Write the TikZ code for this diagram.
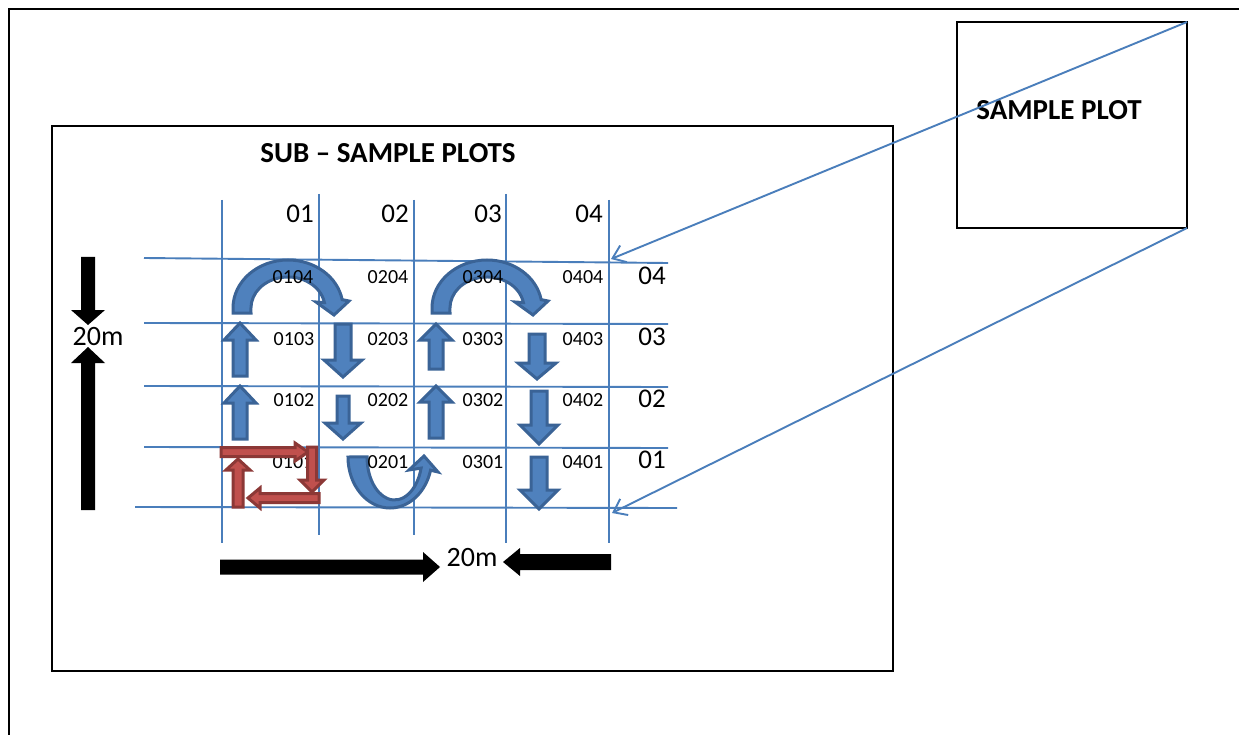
\documentclass[tikz,border=0pt]{standalone}
\usepackage{fontspec}
\setmainfont{Carlito}
\usetikzlibrary{arrows.meta}
\definecolor{gridblue}{HTML}{4A7EBB}
\definecolor{bfill}{HTML}{4F81BD}
\definecolor{bline}{HTML}{3A6396}
\definecolor{rfill}{HTML}{C0504D}
\definecolor{rline}{HTML}{8C3836}
% vertical block arrow: style, x, ytail, yheadbase, ytip, shaft half, head half
\newcommand{\myVArr}[7]{\path[#1] ({#2-#6},#3) -- ({#2-#6},#4) -- ({#2-#7},#4) -- (#2,#5) -- ({#2+#7},#4) -- ({#2+#6},#4) -- ({#2+#6},#3) -- cycle;}
% horizontal block arrow: style, y, xtail, xheadbase, xtip, shaft half, head half
\newcommand{\myHArr}[7]{\path[#1] (#3,{#2-#6}) -- (#4,{#2-#6}) -- (#4,{#2-#7}) -- (#5,#2) -- (#4,{#2+#7}) -- (#4,{#2+#6}) -- (#3,{#2+#6}) -- cycle;}
\begin{document}
\begin{tikzpicture}[x=1pt,y=-1pt,
  gridline/.style={draw=gridblue, line width=1.9pt},
  conn/.style={draw=gridblue, line width=1.9pt, -{Straight Barb[length=12pt,width=18pt]}},
  barrow/.style={fill=bfill, draw=bline, line width=3pt, line join=miter},
  rarrow/.style={fill=rfill, draw=rline, line width=3pt, line join=miter},
  karrow/.style={fill=black},
  celltxt/.style={font=\fontsize{20}{24}\selectfont, inner sep=0pt},
  hdrtxt/.style={font=\fontsize{27}{31}\selectfont, inner sep=0pt},
  dimtxt/.style={font=\fontsize{28}{32}\selectfont, inner sep=0pt},
  ttl/.style={font=\bfseries\fontsize{29}{34}\selectfont, inner sep=0pt},
  box/.style={draw=black, line width=1.4pt, inner sep=0pt, outer sep=0pt, anchor=north west}]
\fill[white] (0,0) rectangle (1239,735);
\useasboundingbox (0,0) rectangle (1239,735);
\begin{scope}
\clip (0,0) rectangle (1239,735);
\draw[line width=2.6pt] (9,745) -- (9,9) -- (1250,9);
\end{scope}
% boxes
\node[box, minimum width=841pt, minimum height=545pt] (sub) at (52,126) {};
\node[box, minimum width=230pt, minimum height=206pt] (sp) at (957,22) {};
\node[ttl] (sptitle) at (1059,110) {SAMPLE PLOT};
\node[ttl] (subtitle) at (388,153) {SUB -- SAMPLE PLOTS};
% grid
\draw[gridline] (144,258) -- (668,263);
\draw[gridline] (144,323) -- (668,324);
\draw[gridline] (144,386) -- (668,387);
\draw[gridline] (144,447) -- (668,448);
\draw[gridline] (135,507) -- (677,508);
\draw[gridline] (222,200) -- (222,543);
\draw[gridline] (319,194) -- (319,535);
\draw[gridline] (414,200) -- (414,535);
\draw[gridline] (506,194) -- (506,543);
\draw[gridline] (609,200) -- (609,543);
% connectors
\coordinate (gTR) at (611,259);
\coordinate (gBR) at (612,513);
\draw[conn] (sp.north east) -- (gTR);
\draw[conn] (sp.south east) -- (gBR);
% header labels
\node[hdrtxt] (h1) at (300,214) {01};
\node[hdrtxt] (h2) at (395,214) {02};
\node[hdrtxt] (h3) at (488,214) {03};
\node[hdrtxt] (h4) at (589,214) {04};
\node[hdrtxt] (r4) at (652,276) {04};
\node[hdrtxt] (r3) at (652,337) {03};
\node[hdrtxt] (r2) at (652,399) {02};
\node[hdrtxt] (r1) at (652,460) {01};
% blue straight arrows
\myVArr{barrow}{240}{376}{340}{323}{7}{16}
\myVArr{barrow}{240}{439}{403}{386}{7}{16}
\myVArr{barrow}{343}{324}{360}{377}{8}{19}
\myVArr{barrow}{343}{396}{423}{439}{6}{18}
\myVArr{barrow}{436}{369}{340}{324}{7}{16}
\myVArr{barrow}{436}{438}{402}{386}{7}{16}
\myVArr{barrow}{537}{334}{363}{379}{8}{19}
\myVArr{barrow}{539}{391}{425}{444}{8}{19}
\myVArr{barrow}{539}{457}{490}{509}{8}{19}
% blue curved arrows (top)
\path[barrow] (233,313) -- (233,308) arc[start angle=180, end angle=350, x radius=55, y radius=48]
  -- (349,301) -- (334,315) -- (316,302) -- (324.4,302.6)
  arc[start angle=350, end angle=180, x radius=37, y radius=31] -- (251,313) -- cycle;
\begin{scope}[shift={(199,0)}]
\path[barrow] (233,313) -- (233,308) arc[start angle=180, end angle=350, x radius=55, y radius=48]
  -- (349,301) -- (334,315) -- (316,302) -- (324.4,302.6)
  arc[start angle=350, end angle=180, x radius=37, y radius=31] -- (251,313) -- cycle;
\end{scope}
% blue U arrow (bottom)
\path[barrow] (348,457) arc[start angle=180, end angle=15, x radius=42, y radius=51]
  -- (438,472) -- (424,456) -- (409,470) -- (421.1,468.1)
  arc[start angle=15, end angle=180, x radius=27.5, y radius=43] -- cycle;
% cell labels
\node[celltxt] (c0104) at (293,277) {0104};
\node[celltxt] (c0204) at (388,277) {0204};
\node[celltxt] (c0304) at (483,277) {0304};
\node[celltxt] (c0404) at (583,277) {0404};
\node[celltxt] (c0103) at (294,339) {0103};
\node[celltxt] (c0203) at (388,339) {0203};
\node[celltxt] (c0303) at (483,339) {0303};
\node[celltxt] (c0403) at (583,339) {0403};
\node[celltxt] (c0102) at (294,400) {0102};
\node[celltxt] (c0202) at (388,400) {0202};
\node[celltxt] (c0302) at (483,400) {0302};
\node[celltxt] (c0402) at (583,400) {0402};
\node[celltxt] (c0101) at (293,462) {0101};
\node[celltxt] (c0201) at (388,462) {0201};
\node[celltxt] (c0301) at (483,462) {0301};
\node[celltxt] (c0401) at (583,462) {0401};
% red arrows
\myVArr{rarrow}{238}{507}{470}{459}{5}{12}
\myHArr{rarrow}{452}{221}{295}{308}{4.5}{9}
\myVArr{rarrow}{312}{447}{480}{492}{4.5}{12}
\myHArr{rarrow}{498}{319}{260}{248}{4.5}{10}
% black dimension arrows
\myVArr{karrow}{88}{257}{310}{325}{7}{17}
\myVArr{karrow}{88}{510}{363}{347}{7}{17}
\myHArr{karrow}{567}{220}{423}{440}{7.5}{15}
\myHArr{karrow}{562}{611}{520}{503}{8}{14}
\node[dimtxt] (dimv) at (98,337) {20m};
\node[dimtxt] (dimh) at (472,558) {20m};
\end{tikzpicture}
\end{document}
